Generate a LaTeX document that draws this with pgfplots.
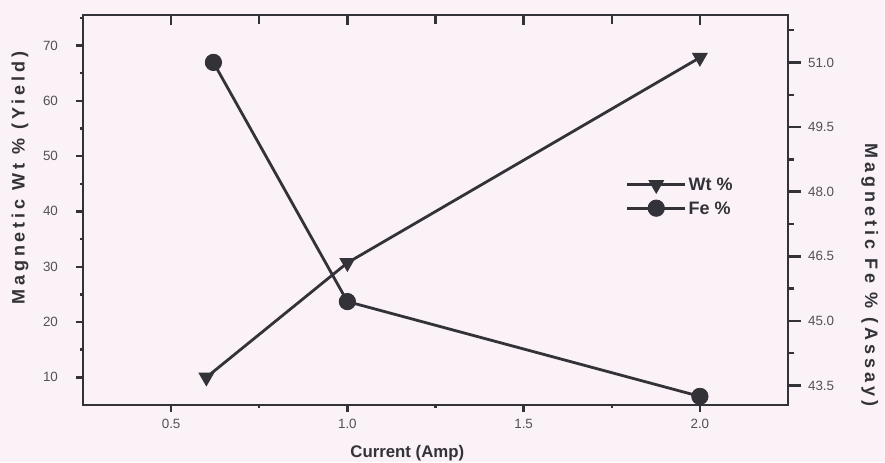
\documentclass[border=0pt]{standalone}
\usepackage{pgfplots}
\pgfplotsset{compat=1.18}
\usepackage{pgfplotstable}
\usepackage{fontspec}
\setmainfont{Liberation Sans}
\definecolor{bgpink}{RGB}{250,242,247}
\definecolor{ink}{RGB}{50,50,56}
\pgfplotsset{
  wtstyle/.style={ink, line width=1.4pt, mark=triangle*, mark size=4.2pt, mark options={rotate=180, fill=ink, line width=0.4pt, solid}},
  festyle/.style={ink, line width=1.4pt, mark=*, mark size=4.1pt, mark options={fill=ink, line width=0.4pt, solid}},
  common/.style={at={(0pt,0pt)}, anchor=south west, scale only axis,
     width=352.5pt, height=195pt, xmin=0.25, xmax=2.25,
     axis line style={ink, line width=1.4pt},
     every tick/.style={ink, line width=1.2pt},
     tick label style={font=\fontsize{6.7}{7.5}\selectfont, text=ink!85}},
}
\pgfplotstableread{
x y
0.6 10.0
1.0 30.7
2.0 67.8
}\wtdata
\pgfplotstableread{
x y
0.62 51.0
1.0 45.45
2.0 43.25
}\fedata

\begin{document}
\begin{tikzpicture}
\fill[bgpink] (-41.5pt,-28.5pt) rectangle (401pt,202.5pt);
\begin{axis}[common,
  ymin=5, ymax=75.5,
  xtick={0.5,1,1.5,2}, xticklabels={0.5,1.0,1.5,2.0}, minor xtick={0.75,1.25,1.75},
  ytick={10,20,30,40,50,60,70}, yticklabels={10,20,30,40,50,60,70},
  minor ytick={15,25,35,45,55,65,75},
  xtick pos=left, ytick pos=left,
  tick align=outside, major tick length=3.5pt, minor tick length=1.5pt,
  yticklabel style={xshift=-5.5pt},
  xlabel={Current (Amp)},
  xlabel style={at={(axis description cs:0.460,-0.123)}, anchor=center, font=\bfseries\fontsize{8.4}{9}\selectfont, text=ink},
  ylabel={Magnetic Wt \% (Yield)},
  ylabel style={at={(axis description cs:-0.0894,0.582)}, anchor=center, font=\bfseries\fontsize{9}{10}\selectfont\addfontfeature{LetterSpace=22}, text=ink},
]
\addplot[wtstyle] table[x=x,y=y]{\wtdata};
\end{axis}
\begin{axis}[common,
  ymin=43.05, ymax=52.1,
  axis x line=none, axis y line*=right,
  ytick={43.5,45,46.5,48,49.5,51}, yticklabels={43.5,45.0,46.5,48.0,49.5,51.0},
  minor ytick={44.25,45.75,47.25,48.75,50.25,51.75},
  tick align=outside, major tick length=6.5pt, minor tick length=3pt,
  ylabel={Magnetic Fe \% (Assay)},
  every axis y label/.style={at={(axis description cs:1.116,0.333)}, anchor=center, rotate=-90, font=\bfseries\fontsize{9}{10}\selectfont\addfontfeature{LetterSpace=22}, text=ink},
  legend style={at={(axis description cs:0.770,0.588)}, anchor=north west, draw=none, fill=none, inner sep=0pt, outer sep=0pt, row sep=2.6pt, font=\bfseries\fontsize{9}{10}\selectfont, text=ink, nodes={inner sep=1pt, text height=6.6pt, text depth=0.5pt}},
  legend cell align=left,
  legend image code/.code={\draw[mark repeat=2, mark phase=2, #1] plot coordinates {(0pt,0pt) (14.5pt,0pt) (29pt,0pt)};},
]
\addlegendimage{wtstyle}
\addlegendentry{Wt \%}
\addplot[festyle] table[x=x,y=y]{\fedata};
\addlegendentry{Fe \%}
\end{axis}
\begin{axis}[common,
  ymin=0, ymax=1,
  axis y line=none, axis x line*=top,
  xtick={0.5,1,1.5,2}, minor xtick={0.75,1.25,1.75}, xticklabels={},
  tick align=inside, major tick length=5pt, minor tick length=4.5pt,
]
\end{axis}
\pgfresetboundingbox
\path[use as bounding box] (-41.5pt,-28.5pt) rectangle (401pt,202.5pt);
\end{tikzpicture}
\end{document}
